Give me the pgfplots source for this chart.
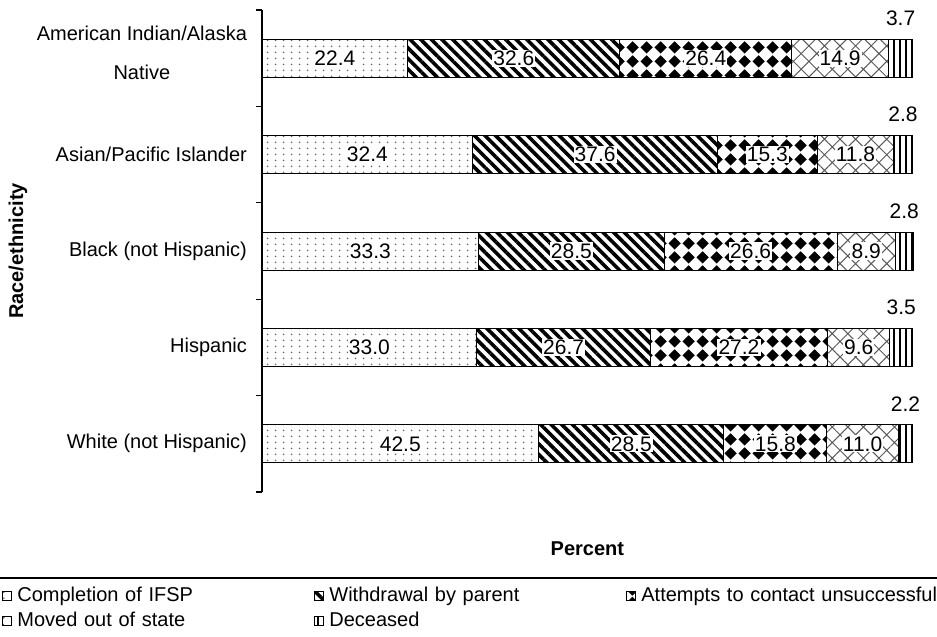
\documentclass[border=0pt]{standalone}
\usepackage{fontspec}
\setmainfont{Liberation Sans}
\usepackage{pgfplots}
\pgfplotsset{compat=1.18}
\usetikzlibrary{patterns,patterns.meta}

\pgfdeclarepatternformonly{sparsedots}{\pgfqpoint{0pt}{0pt}}{\pgfqpoint{4pt}{3pt}}{\pgfqpoint{4pt}{3pt}}{%
  \pgfpathcircle{\pgfqpoint{2pt}{1.5pt}}{0.5pt}\pgfusepath{fill}}
\pgfdeclarepatternformonly{bigdiamonds}{\pgfqpoint{0pt}{0pt}}{\pgfqpoint{6.8pt}{6.8pt}}{\pgfqpoint{6.8pt}{6.8pt}}{%
  \pgfpathmoveto{\pgfqpoint{3.4pt}{0.25pt}}%
  \pgfpathlineto{\pgfqpoint{6.55pt}{3.4pt}}%
  \pgfpathlineto{\pgfqpoint{3.4pt}{6.55pt}}%
  \pgfpathlineto{\pgfqpoint{0.25pt}{3.4pt}}%
  \pgfpathclose\pgfusepath{fill}}

\newcommand{\fs}{\fontsize{10}{12}\selectfont}

\begin{document}
\begin{tikzpicture}
\useasboundingbox (-131pt,-72.5pt) rectangle (337.5pt,246pt);
\begin{axis}[
  at={(0pt,0pt)}, anchor=south west,
  xbar stacked,
  x=3.2535pt, y=48.2pt,
  xmin=0, xmax=100, ymin=-0.5, ymax=4.5,
  bar width=19pt,
  clip=false,
  /pgf/number format/assume math mode=true,
  axis y line*=left, axis x line*=bottom,
  x axis line style={draw=none},
  y axis line style={line width=0.6pt},
  xtick=\empty,
  ytick={0,1,2,3,4},
  yticklabels={White (not Hispanic), Hispanic, Black (not Hispanic), Asian/Pacific Islander, {American Indian/Alaska\\[7.5pt]Native\rule[-5.5pt]{0pt}{0pt}}},
  major tick length=0pt,
  minor ytick={-0.5,0.5,1.5,2.5,3.5,4.5},
  minor tick length=3pt,
  tick align=outside,
  tick style={line width=0.6pt, black},
  yticklabel style={align=center, font=\fs, xshift=-4pt},
  xlabel={Percent},
  xlabel style={at={(axis description cs:0.5,-0.1183)}, anchor=center, font=\bfseries\fs},
  ylabel={Race/ethnicity},
  ylabel style={at={(axis description cs:-0.375,0.5)}, anchor=center, font=\bfseries\fs},
  point meta=rawx,
  nodes near coords={\pgfmathprintnumber[fixed,fixed zerofill,precision=1,assume math mode=true]{\pgfplotspointmeta}},
  every node near coord/.append style={anchor=center, fill=white, inner sep=0.6pt, font=\fontsize{10.5}{12}\selectfont, text=black},
  legend columns=3,
  legend style={at={(axis description cs:-0.3996,-0.195)}, anchor=north west, draw=none, fill=none, inner sep=0pt, row sep=2.5pt, font=\fs,
    nodes={inner sep=0pt, text height=7.5pt, text depth=2.5pt, text width=146pt, align=left},
    /tikz/every odd column/.append style={column sep=2.5pt},
    /tikz/every even column/.append style={column sep=2.5pt}},
  legend image code/.code={\draw[#1, line width=0.5pt, draw=black] (0pt,-2.25pt) rectangle (4.5pt,2.25pt);},
]
\addplot[draw=black, line width=0.5pt, pattern=sparsedots, pattern color=gray!75!black]
  coordinates {(42.5,0) (33.0,1) (33.3,2) (32.4,3) (22.4,4)};
\addlegendentry{Completion of IFSP}
\addplot[draw=black, line width=0.5pt, pattern={Lines[angle=-45, distance=3.75pt, line width=1.8pt]}, pattern color=black]
  coordinates {(28.5,0) (26.7,1) (28.5,2) (37.6,3) (32.6,4)};
\addlegendentry{Withdrawal by parent}
\addplot[draw=black, line width=0.5pt, pattern=bigdiamonds, pattern color=black]
  coordinates {(15.8,0) (27.2,1) (26.6,2) (15.3,3) (26.4,4)};
\addlegendentry{\mbox{Attempts to contact unsuccessful}}
\addplot[draw=black, line width=0.5pt, pattern={Hatch[angle=45, distance=5.5pt, line width=0.5pt]}, pattern color=gray!70!black]
  coordinates {(11.0,0) (9.6,1) (8.9,2) (11.8,3) (14.9,4)};
\addlegendentry{Moved out of state}
\addplot[draw=black, line width=0.5pt, pattern={Lines[angle=90, distance=3pt, line width=1.3pt]}, pattern color=black,
  every node near coord/.append style={yshift=20pt, fill=none}]
  coordinates {(2.2,0) (3.5,1) (2.8,2) (2.8,3) (3.7,4)};
\addlegendentry{Deceased}
\end{axis}
\draw[line width=0.75pt] (-131pt,-43pt) -- (337.5pt,-43pt);
\end{tikzpicture}
\end{document}
